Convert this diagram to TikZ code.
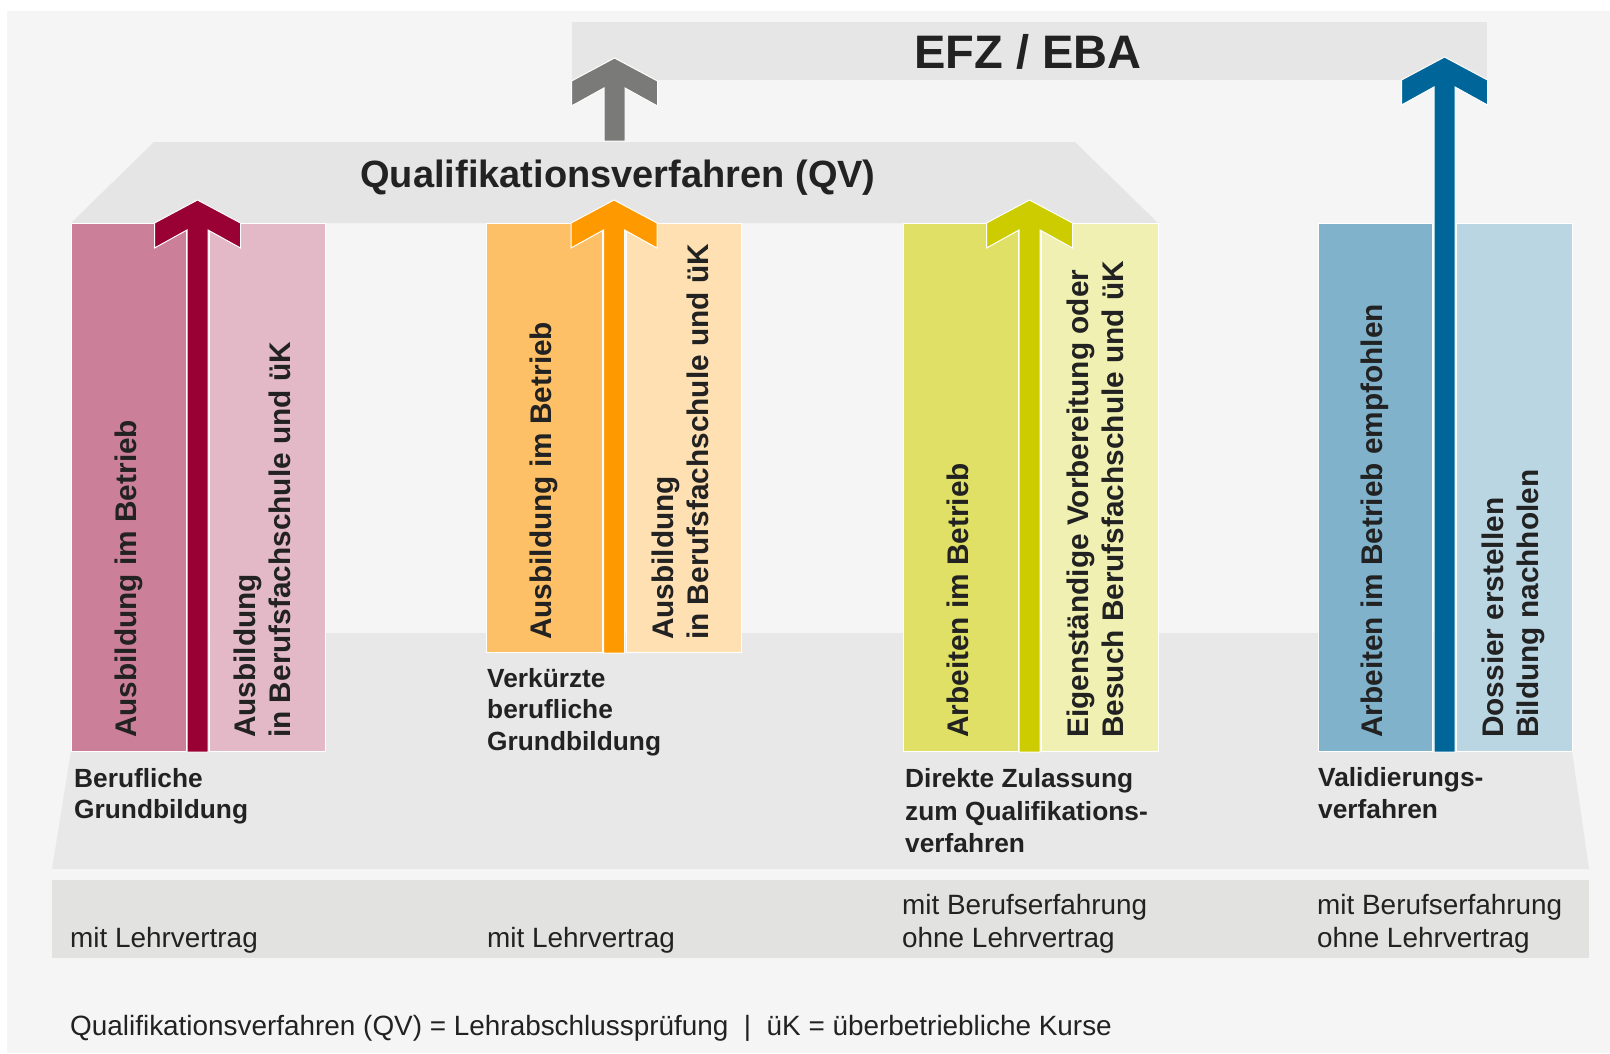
\documentclass[tikz,border=0pt]{standalone}
\usepackage{fontspec}
\setmainfont{Liberation Sans}
\definecolor{panel}{RGB}{245,245,245}
\definecolor{bandA}{RGB}{230,230,230}
\definecolor{bandQ}{RGB}{229,229,229}
\definecolor{bandL}{RGB}{232,232,232}
\definecolor{bandB}{RGB}{226,226,224}
\definecolor{garrow}{RGB}{122,122,120}
\definecolor{txt}{RGB}{34,34,34}
\definecolor{pinkD}{RGB}{204,127,153}
\definecolor{pinkL}{RGB}{227,184,199}
\definecolor{pinkS}{RGB}{153,0,51}
\definecolor{oraD}{RGB}{254,192,102}
\definecolor{oraL}{RGB}{254,224,178}
\definecolor{oraS}{RGB}{255,153,0}
\definecolor{yelD}{RGB}{224,224,102}
\definecolor{yelL}{RGB}{240,240,178}
\definecolor{yelS}{RGB}{204,204,0}
\definecolor{bluD}{RGB}{128,178,204}
\definecolor{bluL}{RGB}{186,214,227}
\definecolor{bluS}{RGB}{0,102,153}
\newcommand{\myUpArrow}[4]{%
  \filldraw[fill=#1, draw=white, line width=1bp]
    (#2,#3) -- ({#2+43},{#3+23}) -- ({#2+43},{#3+48}) -- ({#2+10.5},{#3+30})
    -- ({#2+10.5},#4) -- ({#2-10.5},#4) -- ({#2-10.5},{#3+30})
    -- ({#2-43},{#3+48}) -- ({#2-43},{#3+23}) -- cycle;}
\tikzset{
  colbox/.style={draw=white, line width=1bp},
  vtext/.style={rotate=90, anchor=base west, inner sep=0pt, text=txt,
    font=\fontsize{29.8bp}{35bp}\selectfont\bfseries},
  lab/.style={anchor=base west, inner sep=0pt, text=txt,
    font=\fontsize{26.3bp}{32bp}\selectfont\bfseries},
  reg/.style={anchor=base west, inner sep=0pt, text=txt,
    font=\fontsize{27.9bp}{33bp}\selectfont},
}
\begin{document}
\begin{tikzpicture}[x=1bp, y=-1bp]
\useasboundingbox (0,0) rectangle (1610,1053);
\fill[white] (0,0) rectangle (1610,1053);
\fill[panel] (7,11) rectangle (1610,1053);
% EFZ band
\fill[bandA] (572,22) rectangle (1487,80);
\node[inner sep=0pt, text=txt, font=\fontsize{47bp}{50bp}\selectfont\bfseries] (efz) at (1028,52) {EFZ / EBA};
% grey arrow
\myUpArrow{garrow}{614.5}{58}{141}
% QV trapezoid
\fill[bandQ] (154,142) -- (1075,142) -- (1158,223) -- (71,223) -- cycle;
\node[inner sep=0pt, text=txt, font=\fontsize{38bp}{40bp}\selectfont\bfseries] (qv) at (618,178) {Qualifikationsverfahren (QV)};
% lower trapezoid
\fill[bandL] (71,633) -- (1572,633) -- (1572,751) -- (1589,869) -- (52,869) -- (71,751) -- cycle;
% bottom band
\fill[bandB] (52,880) rectangle (1589,958);
% columns
\filldraw[colbox, fill=pinkD] (71,223) rectangle (186,751);
\filldraw[colbox, fill=pinkL] (209,223) rectangle (325,751);
\filldraw[colbox, fill=oraD] (486,223) rectangle (602,652);
\filldraw[colbox, fill=oraL] (626,223) rectangle (741,652);
\filldraw[colbox, fill=yelD] (903,223) rectangle (1018,751);
\filldraw[colbox, fill=yelL] (1041,223) rectangle (1158,751);
\filldraw[colbox, fill=bluD] (1318,223) rectangle (1432,751);
\filldraw[colbox, fill=bluL] (1456,223) rectangle (1572,751);
% column arrows
\myUpArrow{pinkS}{197.5}{200}{752}
\myUpArrow{oraS}{614}{200}{653}
\myUpArrow{yelS}{1029.5}{200}{752}
\myUpArrow{bluS}{1444.5}{57}{752}
% vertical texts
\node[vtext] (c1a) at (136,738) {Ausbildung im Betrieb};
\node[vtext] (c1b) at (255,738) {Ausbildung};
\node[vtext] (c1c) at (290,738) {in Berufsfachschule und üK};
\node[vtext] (c2a) at (551,640) {Ausbildung im Betrieb};
\node[vtext] (c2b) at (673,640) {Ausbildung};
\node[vtext] (c2c) at (708,640) {in Berufsfachschule und üK};
\node[vtext] (c3a) at (968,738) {Arbeiten im Betrieb};
\node[vtext] (c3b) at (1088,738) {Eigenständige Vorbereitung oder};
\node[vtext] (c3c) at (1123,738) {Besuch Berufsfachschule und üK};
\node[vtext] (c4a) at (1382,738) {Arbeiten im Betrieb empfohlen};
\node[vtext] (c4b) at (1503,738) {Dossier erstellen};
\node[vtext] (c4c) at (1538,738) {Bildung nachholen};
% bold labels
\node[lab] (l1a) at (74,787) {Berufliche};
\node[lab] (l1b) at (74,818) {Grundbildung};
\node[lab] (l2a) at (487,687) {Verkürzte};
\node[lab] (l2b) at (487,718) {berufliche};
\node[lab] (l2c) at (487,750) {Grundbildung};
\node[lab] (l3a) at (905,787) {Direkte Zulassung};
\node[lab] (l3b) at (905,820) {zum Qualifikations-};
\node[lab] (l3c) at (905,852) {verfahren};
\node[lab] (l4a) at (1318,786) {Validierungs-};
\node[lab] (l4b) at (1318,818) {verfahren};
% bottom band texts
\node[reg] (b1) at (70,947) {mit Lehrvertrag};
\node[reg] (b2) at (487,947) {mit Lehrvertrag};
\node[reg] (b3a) at (902,914) {mit Berufserfahrung};
\node[reg] (b3b) at (902,947) {ohne Lehrvertrag};
\node[reg] (b4a) at (1317,914) {mit Berufserfahrung};
\node[reg] (b4b) at (1317,947) {ohne Lehrvertrag};
% footnote
\node[reg] (foot) at (70,1035) {Qualifikationsverfahren (QV) = Lehrabschlussprüfung\ \ |\ \ üK = überbetriebliche Kurse};
\end{tikzpicture}
\end{document}
